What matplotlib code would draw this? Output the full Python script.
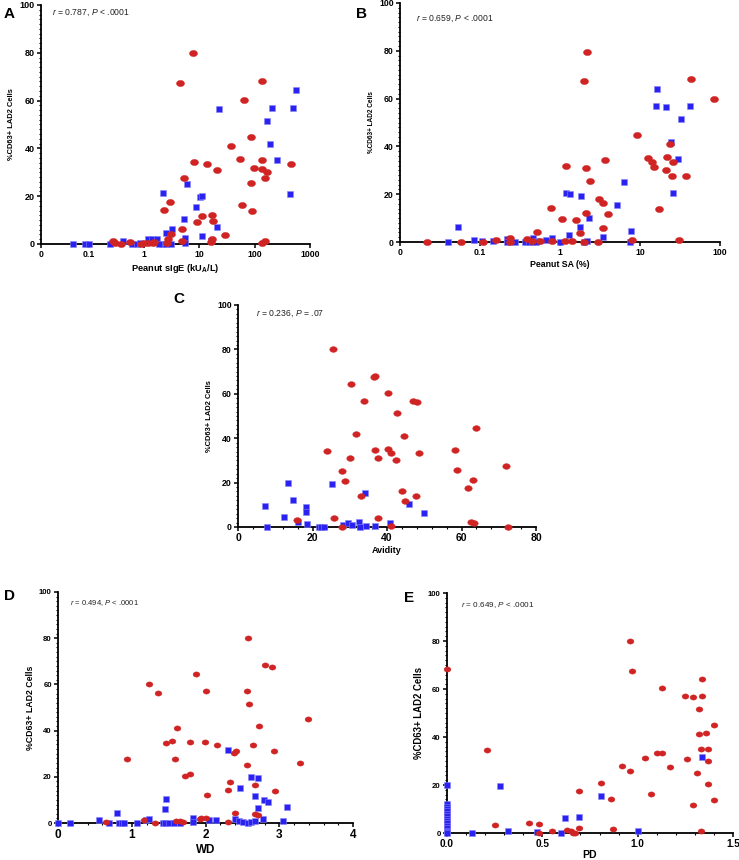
import matplotlib
matplotlib.use("Agg")
import matplotlib.pyplot as plt
import numpy as np
from matplotlib.path import Path
from matplotlib.ticker import MultipleLocator, FixedLocator, NullLocator

plt.rcParams['font.family'] = ['Liberation Sans', 'DejaVu Sans']
plt.rcParams['mathtext.fontset'] = 'custom'
plt.rcParams['mathtext.rm'] = 'Liberation Sans'
plt.rcParams['mathtext.it'] = 'Liberation Sans:italic'
plt.rcParams['mathtext.bf'] = 'Liberation Sans:bold'

RED = '#d02424'
BLUE = '#2a22f0'

# ---- data ----
a_red_x = [7.8, 4.4, 138, 65, 85, 38, 54, 7.9, 14, 447, 138, 136, 165, 98, 21, 5.2, 156, 85,
           2.9, 2.3, 59, 91, 17, 11.2, 18, 9.2, 4.8, 29, 2.7, 3.1, 4.8, 17, 16, 134, 155,
           0.28, 0.39, 0.56, 0.3, 1.0, 1.55, 2.6, 0.9, 1.17, 1.43]
a_red_y = [80, 67.5, 68.2, 60.2, 44.9, 41.1, 35.4, 34.3, 33.3, 33.5, 35.0, 31.2, 30.0, 31.7, 31.0, 27.8, 27.6, 25.7,
           17.7, 14.2, 16.5, 14.0, 12.1, 11.9, 9.8, 9.3, 6.1, 3.9, 2.0, 4.2, 1.4, 2.0, 0.7, 0.5, 1.3,
           1.3, 0, 0.7, 0.3, 0.3, 0.7, 0.3, 0, 0.4, 0.4]
a_blue_x = [0.053, 0.086, 0.1, 0.24, 0.41, 0.6, 0.74, 0.85, 1.16, 1.4, 1.7, 2.2, 2.5, 3.1, 1.9,
            2.25, 2.5, 3.2, 5.3, 5.5, 8.6, 10.2, 11.3, 11, 16, 20.5, 435, 6.0, 23, 550, 205,
            500, 170, 190, 250, 5.5]
a_blue_y = [0, 0, 0, 0, 1.3, 0, 0, 0.3, 2.2, 2.0, 2.0, 0, 0, 0, 0,
            21.2, 4.7, 6.4, 10.5, 2.4, 15.3, 19.5, 20.1, 3.3, 1.4, 7.0, 20.8, 25.2, 56.3, 64.4, 56.8,
            56.8, 51.5, 41.8, 35.0, 0.5]

b_red_x = [0.022, 0.058, 0.11, 0.16, 0.24, 0.39, 0.51, 0.77, 0.8, 1.06, 1.2, 1.57, 1.78, 2.0, 2.18,
           2.1, 2.1, 2.37, 3.1, 3.4, 3.4, 3.6, 4.0, 3.0, 2.0, 1.43, 1.17, 0.56, 9.3, 7.9, 12.6,
           14, 15, 17.4, 21, 21.9, 23.4, 25.6, 25.3, 38, 43.6, 84, 31, 0.45, 0.24]
b_red_y = [0, 0, 0, 0.7, 1.7, 1.4, 4.2, 14.1, 0.5, 9.5, 31.7, 9.1, 3.8, 67.4, 79.7,
           30.8, 12.2, 25.6, 17.8, 16.4, 6.0, 34.4, 11.9, 0, 0, 0.3, 0.5, 0.3, 44.8, 0.7, 35,
           33.4, 31.2, 14, 30.1, 35.4, 41, 33.3, 27.6, 27.6, 68.1, 60, 1.0, 0.4, 0]
b_blue_x = [0.040, 0.053, 0.084, 0.107, 0.145, 0.22, 0.22, 0.27, 0.37, 0.41, 0.46, 0.52, 0.67, 0.8,
            1.0, 1.18, 1.3, 1.35, 1.8, 1.85, 2.0, 2.2, 2.3, 3.4, 5.1, 6.3, 7.4, 7.8, 15.8, 16.5,
            21, 24.6, 26, 30, 33, 42, 0.45, 0.5]
b_blue_y = [0, 6.3, 1.0, 0.4, 0.5, 1.4, 0, 0, 0, 0, 1.8, 0.4, 1.0, 1.8,
            0, 20.6, 3.1, 19.9, 6.3, 19.3, 0, 0.3, 10.2, 2.1, 15.5, 25, 0, 4.6, 56.9, 64.2,
            56.4, 41.7, 20.6, 34.8, 51.3, 56.9, 0, 0]

c_red_x = [25.4, 36.5, 36.9, 30.4, 40.4, 33.7, 46.9, 48.1, 42.7, 31.8, 44.5, 63.8, 23.8, 36.7, 40.4,
           41.2, 37.5, 30.2, 42.3, 48.5, 58.3, 58.9, 72.0, 28.0, 28.6, 63.2, 61.8, 44.1, 32.9, 44.7,
           47.7, 15.9, 25.7, 37.5, 28.0, 41.0, 62.5, 63.3, 72.5]
c_red_y = [80, 67.4, 68.1, 64.2, 60.2, 56.8, 56.8, 56.2, 51.4, 41.8, 41.2, 44.8, 34.4, 34.9, 35.3,
           33.4, 31.3, 31.0, 30.1, 33.4, 34.9, 25.6, 27.7, 25.1, 20.6, 21.1, 17.6, 16.2, 14.0, 11.7,
           14.1, 3.3, 3.9, 4.2, 0, 0.3, 2.1, 1.8, 0]
c_blue_x = [7.3, 7.8, 12.3, 13.4, 14.7, 16.0, 18.2, 18.2, 18.5, 21.8, 22.4, 23.0, 25.2, 28.2, 29.5,
            30.7, 32.4, 32.7, 34.2, 34.3, 36.9, 40.8, 45.8, 50.0]
c_blue_y = [9.6, 0, 4.5, 19.8, 12.0, 2.1, 9.2, 6.9, 1.2, 0, 0, 0, 19.2, 0.8, 1.8,
            1.0, 2.3, 0, 15.3, 0.5, 0.3, 1.8, 10.5, 6.5]

d_red_x = [2.58, 2.80, 2.90, 1.87, 1.24, 1.35, 2.00, 2.56, 2.59, 1.61, 2.73, 3.39, 1.47, 1.55, 1.79,
           1.99, 2.16, 2.64, 2.38, 2.42, 2.93, 0.93, 1.58, 2.56, 3.28, 1.72, 1.79, 2.33, 2.67, 2.30,
           2.94, 2.02, 2.40, 2.67, 2.71, 0.65, 1.31, 1.17, 1.60, 1.66, 1.70, 1.92, 1.94, 2.0, 2.30]
d_red_y = [80, 68.3, 67.6, 64.4, 60.3, 56.4, 57.0, 57.0, 51.5, 41.2, 41.8, 44.9, 34.6, 35.5, 35.0,
           35.0, 33.6, 33.6, 30.2, 31.3, 31.0, 27.8, 27.8, 25.3, 25.8, 20.5, 21.0, 17.8, 16.5, 14.2,
           14.0, 12.0, 4.2, 3.9, 3.3, 0.4, 0, 1.2, 1.0, 1.0, 0.5, 1.6, 2.0, 2.0, 0.3]
d_blue_x = [0, 0.16, 0.55, 0.69, 0.80, 0.83, 0.87, 0.90, 1.07, 1.19, 1.24, 1.45, 1.47, 1.42, 1.45,
            1.51, 1.57, 1.65, 1.83, 1.83, 2.05, 2.14, 2.30, 2.40, 2.47, 2.46, 2.51, 2.57, 2.62, 2.62,
            2.67, 2.71, 2.71, 2.67, 2.78, 2.79, 2.85, 3.05, 3.11]
d_blue_y = [0, 0, 1.2, 0, 4.5, 0, 0, 0, 0, 1.2, 1.9, 6.1, 10.4, 0, 0,
            0.2, 0.2, 0.2, 2.0, 0.4, 1.2, 1.2, 31.7, 1.9, 15.2, 0.7, 0.4, 0, 0.4, 20.0,
            11.9, 19.4, 6.4, 0.9, 1.9, 9.8, 9.3, 0.9, 6.8]

e_red_x = [0, 0.21, 0.25, 0.43, 0.48, 0.48, 0.55, 0.63, 0.65, 0.66, 0.67, 0.69, 0.69, 0.81, 0.86,
           0.87, 0.92, 0.96, 0.96, 0.97, 1.04, 1.07, 1.10, 1.13, 1.13, 1.17, 1.25, 1.26, 1.29, 1.29,
           1.31, 1.32, 1.32, 1.33, 1.34, 1.34, 1.33, 1.36, 1.37, 1.37, 1.37, 1.40, 1.40]
e_red_y = [68.3, 34.4, 3.2, 4.2, 3.8, 0.2, 0.7, 1.1, 0.9, 0, 0, 2.2, 17.6, 21.0, 14.2,
           1.8, 27.8, 25.7, 80.1, 67.6, 31.2, 16.2, 33.5, 33.5, 60.3, 27.5, 57.1, 31.0, 56.5, 11.8,
           25.1, 51.5, 41.3, 35.0, 64.3, 57.1, 1.0, 41.8, 35.2, 30.0, 20.6, 13.9, 44.9]
e_blue_x = [0, 0, 0, 0, 0, 0, 0, 0, 0, 0, 0, 0, 0, 0, 0,
            0.13, 0.28, 0.32, 0.47, 0.60, 0.62, 0.69, 0.81, 1.00, 1.34]
e_blue_y = [19.9, 12, 11, 10, 9, 8, 7, 6, 5, 4, 3, 2, 1, 0.5, 0,
            0, 19.4, 0.7, 0.3, 0, 6.1, 6.5, 15.4, 0.8, 31.7]

# ---- helpers ----
ellipse = Path(Path.unit_circle().vertices * np.array([1.3, 1.0]), Path.unit_circle().codes)

W, H = 739, 860
fig = plt.figure(figsize=(W / 100, H / 100), dpi=100)


def px_axes(x0, y0, x1, y1):
    return fig.add_axes([x0 / W, 1 - y1 / H, (x1 - x0) / W, (y1 - y0) / H])


def style(ax, tick_fs_x, tick_fs_y):
    for s in ['top', 'right']:
        ax.spines[s].set_visible(False)
    for s in ['left', 'bottom']:
        ax.spines[s].set_linewidth(1.3)
    ax.set_ylim(0, 100)
    ax.yaxis.set_major_locator(MultipleLocator(20))
    ax.yaxis.set_minor_locator(MultipleLocator(2))
    ax.tick_params(which='major', length=3, width=1.1)
    ax.tick_params(which='minor', length=1.6, width=0.8)
    ax.tick_params(axis='x', labelsize=tick_fs_x, pad=1.5)
    ax.tick_params(axis='y', labelsize=tick_fs_y, pad=1.5)
    for lab in ax.get_xticklabels() + ax.get_yticklabels():
        lab.set_fontweight('bold')


def points(ax, rx, ry, bx, by, rsize, bsize):
    ax.plot(bx, by, linestyle='none', marker='s', ms=bsize, mfc=BLUE, mec='#8a86f8',
            mew=0.4, clip_on=False, zorder=3)
    ax.plot(rx, ry, linestyle='none', marker=ellipse, ms=rsize, mfc=RED, mec=RED,
            mew=0.3, clip_on=False, zorder=3)


def note(ax, txt, x, y, fs):
    ax.text(x, y, txt, transform=ax.transAxes, fontsize=fs, va='top', ha='left', color='#222222')


def ylab(ax, fs):
    ax.set_ylabel("%CD63+ LAD2 Cells", fontsize=fs, fontweight='bold', labelpad=3)


# Panel A
axA = px_axes(41, 5, 310, 244)
points(axA, a_red_x, a_red_y, a_blue_x, a_blue_y, 5.8, 4.8)
axA.set_xscale('log')
axA.set_xlim(0.0138, 1000)
axA.xaxis.set_major_locator(FixedLocator([0.0138, 0.1, 1, 10, 100, 1000]))
axA.xaxis.set_minor_locator(NullLocator())
axA.set_xticklabels(['0', '0.1', '1', '10', '100', '1000'])
style(axA, 6.2, 6.5)
axA.set_xlabel(r"Peanut sIgE (kU$_{\mathbf{A}}$/L)", fontsize=6.7, fontweight='bold', labelpad=2)
ylab(axA, 5.4)
note(axA, r"$\it{r}$ = 0.787, $\it{P}$ < .0001", 0.04, 0.99, 6.2)

# Panel B
axB = px_axes(400, 3, 720, 242)
points(axB, b_red_x, b_red_y, b_blue_x, b_blue_y, 5.8, 4.8)
axB.set_xscale('log')
axB.set_xlim(0.01, 100)
axB.xaxis.set_major_locator(FixedLocator([0.01, 0.1, 1, 10, 100]))
axB.xaxis.set_minor_locator(NullLocator())
axB.set_xticklabels(['0', '0.1', '1', '10', '100'])
style(axB, 6.2, 6.3)
axB.set_xlabel("Peanut SA (%)", fontsize=6.3, fontweight='bold', labelpad=2)
ylab(axB, 4.7)
note(axB, r"$\it{r}$ = 0.659, $\it{P}$ < .0001", 0.05, 0.955, 6.2)

# Panel C
axC = px_axes(238, 305, 536, 527)
points(axC, c_red_x, c_red_y, c_blue_x, c_blue_y, 5.4, 3.9)
axC.set_xlim(0, 80)
axC.xaxis.set_major_locator(MultipleLocator(20))
axC.xaxis.set_minor_locator(MultipleLocator(4))
style(axC, 7.5, 6.3)
axC.set_xlabel("Avidity", fontsize=6.5, fontweight='bold', labelpad=2)
ylab(axC, 5.4)
note(axC, r"$\it{r}$ = 0.236, $\it{P}$ = .07", 0.06, 0.985, 6.2)

# Panel D
axD = px_axes(58, 592, 353, 823)
points(axD, d_red_x, d_red_y, d_blue_x, d_blue_y, 4.9, 3.8)
axD.set_xlim(0, 4)
axD.xaxis.set_major_locator(MultipleLocator(1))
axD.xaxis.set_minor_locator(MultipleLocator(0.2))
style(axD, 8.5, 5.6)
axD.set_xlabel("WD", fontsize=8.4, fontweight='bold', labelpad=2)
ylab(axD, 6.3)
note(axD, r"$\it{r}$ = 0.494, $\it{P}$ < .0001", 0.04, 0.975, 5.5)

# Panel E
axE = px_axes(447, 593, 733, 833)
points(axE, e_red_x, e_red_y, e_blue_x, e_blue_y, 4.9, 4.0)
axE.set_xlim(0, 1.5)
axE.xaxis.set_major_locator(FixedLocator([0, 0.5, 1.0, 1.5]))
axE.xaxis.set_minor_locator(MultipleLocator(0.1))
axE.set_xticklabels(['0.0', '0.5', '1.0', '1.5'])
style(axE, 7.2, 5.6)
axE.set_xlabel("PD", fontsize=7.6, fontweight='bold', labelpad=0.5)
ylab(axE, 6.9)
note(axE, r"$\it{r}$ = 0.649, $\it{P}$ < .0001", 0.05, 0.97, 5.9)

# panel letters
for letter, x, y in [('A', 4, 18), ('B', 356, 18), ('C', 173, 303), ('D', 4, 600), ('E', 404, 602)]:
    fig.text(x / W, 1 - y / H, letter, fontsize=11, fontweight='bold', va='baseline')

fig.savefig("out.png", dpi=100)
